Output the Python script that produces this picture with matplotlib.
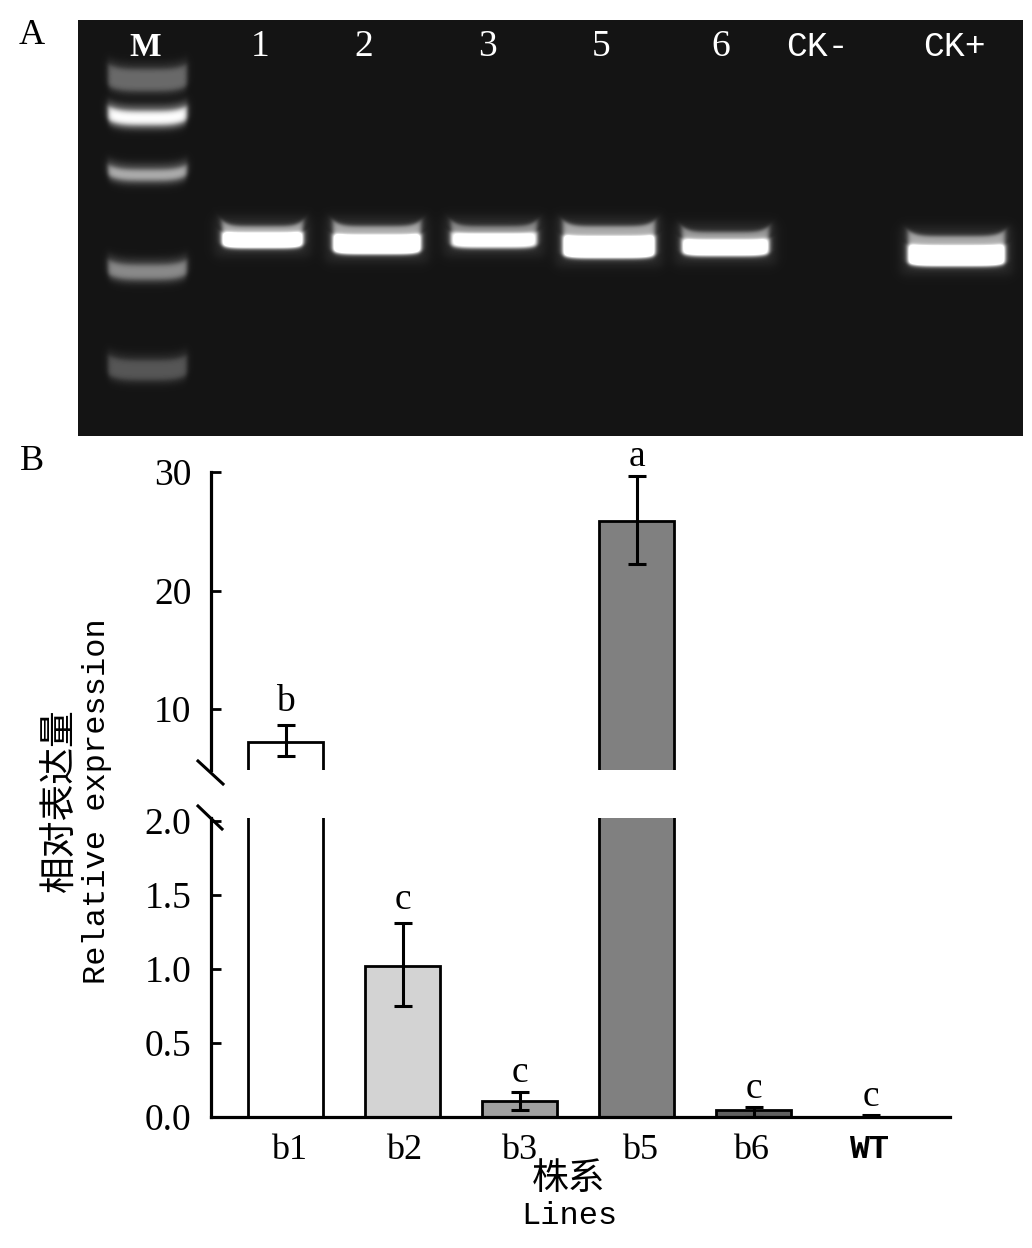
import numpy as np
import matplotlib
matplotlib.use("Agg")
import matplotlib.pyplot as plt
from matplotlib.lines import Line2D
from matplotlib.transforms import ScaledTranslation

W, H = 1032, 1248
LAT = "Liberation Mono"
SER = "Liberation Serif"
CJK = "Noto Sans CJK SC"
plt.rcParams["font.family"] = [LAT, CJK]

# ---- panel B data
lines = ["b1", "b2", "b3", "b5", "b6", "WT"]
values = [7.2, 1.02, 0.11, 25.9, 0.05, 0.0]
err_low = [6.0, 0.75, 0.05, 22.2, 0.0, 0.0]
err_high = [8.65, 1.31, 0.17, 29.66, 0.065, 0.012]
letters = ["b", "c", "c", "a", "c", "c"]
colors = ["#ffffff", "#d3d3d3", "#a0a0a0", "#808080", "#606060", "#404040"]
upper_ticks = [10, 20, 30]
lower_ticks = [0.0, 0.5, 1.0, 1.5, 2.0]

# ---- panel A data
lane_names = ["M", "1", "2", "3", "5", "6", "CK-", "CK+"]
lane_name_x = [145, 260, 364, 487, 601, 721, 817, 954]
ladder_y = [80, 118, 175, 272, 370]
ladder_height = [22, 14, 11, 15, 20]
ladder_level = [0.26, 0.72, 0.48, 0.36, 0.2]
ladder_x = (108, 187)
sample_x0 = [222, 333, 451, 563, 682, 908]
sample_x1 = [303, 421, 537, 655, 769, 1005]
sample_y0 = [226, 226, 226, 226, 232, 236]
sample_y1 = [248, 254, 248, 258, 256, 266]
sample_level = [1.0, 1.0, 0.78, 1.0, 0.9, 1.0]


def rect(l, t, r, b):
    return [l / W, 1 - b / H, (r - l) / W, (b - t) / H]


def smooth_box(u, a, b, s):
    return 0.5 * (np.tanh((u - a) / s) - np.tanh((u - b) / s))


fig = plt.figure(figsize=(W / 100, H / 100), dpi=100, facecolor="white")

# ---- gel
gx0, gx1, gy0, gy1 = 78, 1023, 20, 436
gel_ax = fig.add_axes(rect(gx0, gy0, gx1, gy1))
xx, yy = np.meshgrid(np.arange(gx0, gx1) + 0.5, np.arange(gy0, gy1) + 0.5)
gel = np.full(xx.shape, 0.08)
for yc, h, lev in zip(ladder_y, ladder_height, ladder_level):
    u = np.clip((xx - sum(ladder_x) / 2) / ((ladder_x[1] - ladder_x[0]) / 2), -1.3, 1.3)
    bend = -5 * u ** 4
    xb = smooth_box(xx, ladder_x[0], ladder_x[1], 3.0)
    gel += lev * xb * smooth_box(yy - bend, yc - h / 2, yc + h / 2, 3.5)
    gel += 0.3 * lev * xb * smooth_box(yy - bend, yc - h / 2 - 7, yc + h / 2 + 5, 4.0)
for x0, x1, y0, y1, lev in zip(sample_x0, sample_x1, sample_y0, sample_y1, sample_level):
    h = y1 - y0
    xc, hw = (x0 + x1) / 2, (x1 - x0) / 2
    u = np.clip((xx - xc) / hw, -1.3, 1.3)
    bend = -6 * u ** 6
    xb = smooth_box(xx, x0, x1, 3.0)
    yb = yy - bend
    gel += 0.5 * lev * xb * smooth_box(yb, y0, y0 + 0.45 * h, 2.5)
    gel += 1.25 * lev * xb * smooth_box(yy - 0.4 * bend, y0 + 0.36 * h, y1, 2.5)
    gel += 0.09 * smooth_box(xx, x0 - 7, x1 + 7, 6) * smooth_box(yy, y0 - 9, y1 + 8, 6)
gel_ax.imshow(np.clip(gel, 0, 1), cmap="gray", vmin=0, vmax=1, aspect="auto",
              extent=(gx0, gx1, gy1, gy0), interpolation="bilinear")
gel_ax.set_xticks([])
gel_ax.set_yticks([])
for s in gel_ax.spines.values():
    s.set_visible(False)
for name, x in zip(lane_names, lane_name_x):
    if name.startswith("CK"):
        gel_ax.text(x, 46, name, color="white", fontsize=25, ha="center", va="center")
    else:
        gel_ax.text(x, 47, name, color="white", fontsize=27 if name != "M" else 24,
                    family=SER, weight="bold" if name == "M" else "normal",
                    ha="center", va="center")

# ---- broken bar chart
L, R = 211, 950
top_px, upper_bot_px = 472, 770
lower_top_px, zero_px = 818, 1117
x_left = (L - 285.5) / 117.0
x_right = (R - 285.5) / 117.0
ax_up = fig.add_axes(rect(L, top_px, R, upper_bot_px))
ax_lo = fig.add_axes(rect(L, lower_top_px, R, zero_px))
xpos = np.arange(len(lines))
for ax in (ax_up, ax_lo):
    ax.bar(xpos, values, width=0.64, color=colors, edgecolor="black", linewidth=2.0, zorder=2)
    yerr = [np.array(values) - np.array(err_low), np.array(err_high) - np.array(values)]
    ax.errorbar(xpos, values, yerr=yerr, fmt="none", ecolor="black", elinewidth=2.2,
                capsize=6.5, capthick=2.2, zorder=3)
    ax.set_xlim(x_left, x_right)
    ax.patch.set_alpha(0)
    for s in ("top", "right"):
        ax.spines[s].set_visible(False)
    ax.spines["left"].set_linewidth(2.3)
    ax.tick_params(axis="y", direction="in", length=7.5, width=2.0, labelsize=27, pad=14)

ax_up.set_ylim(10 - (upper_bot_px - 709) / 11.85, 30)
ax_up.set_yticks(upper_ticks)
ax_up.set_yticklabels([str(t) for t in upper_ticks], family=SER)
ax_up.spines["bottom"].set_visible(False)
ax_up.set_xticks([])

ax_lo.set_ylim(0, (zero_px - lower_top_px) / 148.0)
ax_lo.set_yticks(lower_ticks)
ax_lo.set_yticklabels([f"{t:.1f}" for t in lower_ticks], family=SER)
ax_lo.spines["bottom"].set_linewidth(2.3)
ax_lo.set_xticks(xpos)
ax_lo.set_xticklabels(lines, fontsize=26)
ax_lo.tick_params(axis="x", length=0, pad=12)
nudges = [4, 2, 0, 4, -2, -1]
for lab, name, dx in zip(ax_lo.get_xticklabels(), lines, nudges):
    if name == "WT":
        lab.set_family(LAT)
        lab.set_weight("bold")
        lab.set_fontsize(24)
    else:
        lab.set_family(SER)
    lab.set_transform(lab.get_transform() + ScaledTranslation(dx / 100, 0, fig.dpi_scale_trans))

# significance letters
for i, (let, hi) in enumerate(zip(letters, err_high)):
    ax = ax_up if hi > 2.02 else ax_lo
    lift = 10 if i < 2 else 7
    ax.annotate(let, (i, hi), xytext=(0, lift), textcoords="offset points", family=SER,
                ha="center", va="baseline", fontsize=27, annotation_clip=False)

# axis-break slashes (figure decoration)
for (x0, y0, x1, y1) in [(198, 761, 223, 784), (198, 806, 222, 829)]:
    fig.add_artist(Line2D([x0 / W, x1 / W], [1 - y0 / H, 1 - y1 / H], color="black", lw=2.2))

# titles, labels
fig.text(32 / W, 1 - 36 / H, "A", family=SER, fontsize=26, ha="center", va="center")
fig.text(32 / W, 1 - 462 / H, "B", family=SER, fontsize=26, ha="center", va="center")
fig.text(60 / W, 1 - 800 / H, "相对表达量", family=[CJK], fontsize=26.5, rotation=90, ha="center", va="center")
fig.text(97 / W, 1 - 801 / H, "Relative expression", fontsize=23, rotation=90, ha="center", va="center")
fig.text(569 / W, 1 - 1178 / H, "株系", family=[CJK], fontsize=26.5, ha="center", va="center")
fig.text(569 / W, 1 - 1216 / H, "Lines", fontsize=23, ha="center", va="center")

fig.savefig("out.png", dpi=100, facecolor="white")
